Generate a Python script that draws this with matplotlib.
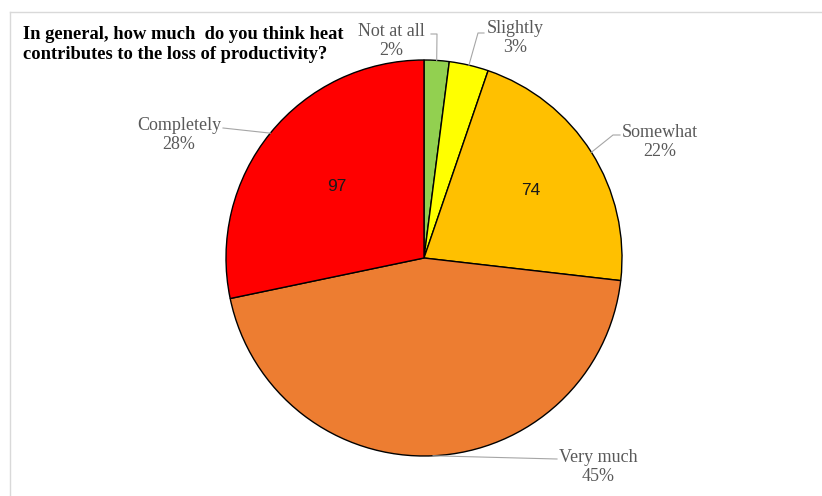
import numpy as np
import matplotlib.pyplot as plt

# Survey responses: heat and loss of productivity
categories = ["Not at all", "Slightly", "Somewhat", "Very much", "Completely"]
counts = [7, 11, 74, 154, 97]
percent_labels = ["2%", "3%", "22%", "45%", "28%"]
show_count = [False, False, True, False, True]
colors = ["#92D050", "#FFFF00", "#FFC000", "#ED7D31", "#FF0000"]

title = "In general, how much  do you think heat\ncontributes to the loss of productivity?"

W, H = 822, 496
fig = plt.figure(figsize=(W / 100, H / 100), dpi=100)
ax = fig.add_axes([0, 0, 1, 1])

cx, cy, R = 424, H - 258, 198
wedges, _ = ax.pie(counts, colors=colors, startangle=90, counterclock=False,
                   center=(cx, cy), radius=R,
                   wedgeprops=dict(edgecolor="black", linewidth=1.0))
ax.set_xlim(0, W)
ax.set_ylim(0, H)
ax.axis("off")

serif = "Liberation Serif"
gray = "#595959"

# outside label text centres and elbow points (pixel coords, y from top)
label_pos = [(391, 41), (515, 38), (660, 142), (598, 467), (179, 135)]
elbows = [[(437, 34), (431, 34)],
          [(478, 33), (484, 33)],
          [(613, 135), (620, 135)],
          [(557, 459), (557, 459)],
          [(223, 128), (223, 128)]]
inner_r = [0, 0, 0.64, 0, 0.57]

for i, w in enumerate(wedges):
    mid = np.deg2rad((w.theta1 + w.theta2) / 2)
    ex, ey = cx + R * np.cos(mid), cy + R * np.sin(mid)
    pts = [(ex, ey)] + [(x, H - y) for x, y in elbows[i]]
    xs, ys = zip(*pts)
    ax.plot(xs, ys, color="#A6A6A6", lw=0.8, zorder=1)
    lx, ly = label_pos[i]
    ax.text(lx, H - ly, f"{categories[i]}\n{percent_labels[i]}", ha="center",
            va="center", fontsize=13, color=gray, family=serif,
            linespacing=1.2)
    if show_count[i]:
        r = inner_r[i] * R
        ax.text(cx + r * np.cos(mid), cy + r * np.sin(mid), str(counts[i]),
                ha="center", va="center", fontsize=12.5, color="#1A1A1A",
                family="Liberation Sans")

ax.text(23, H - 26, title, ha="left", va="top", fontsize=13.3, fontweight="bold",
        family=serif, color="black", linespacing=1.2)

# chart frame (top and left edges)
ax.plot([10, W], [H - 12, H - 12], color="#D9D9D9", lw=1)
ax.plot([10, 10], [H - 12, 0], color="#D9D9D9", lw=1)

fig.savefig("out.png", dpi=100)
